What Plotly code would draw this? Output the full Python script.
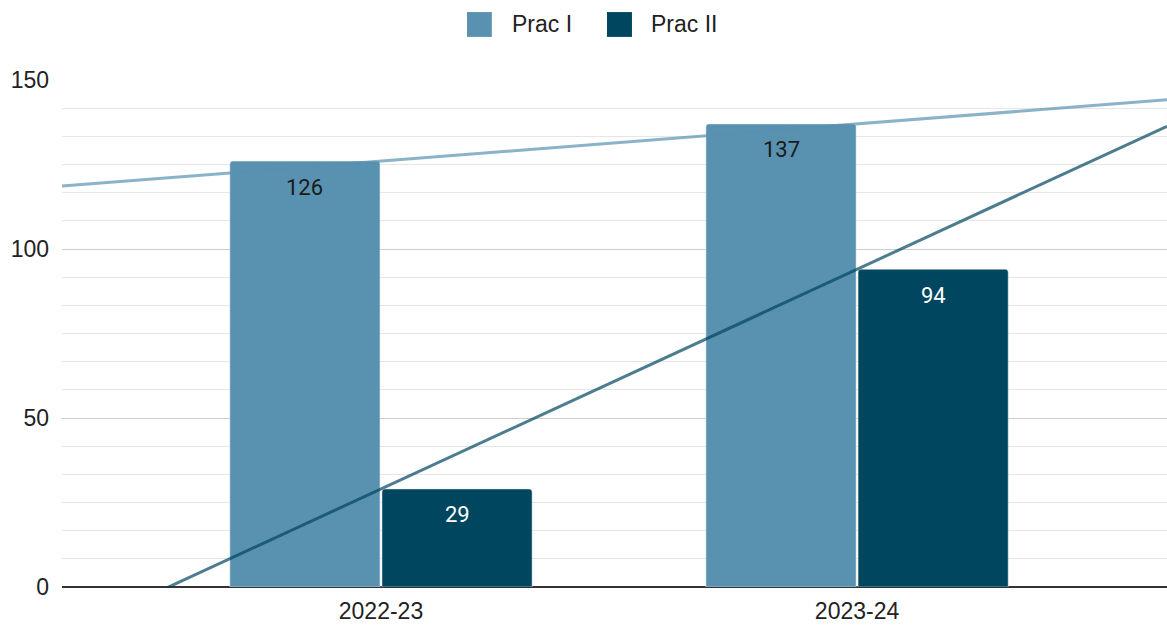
import numpy as np
import plotly.graph_objects as go

categories = ["2022-23", "2023-24"]
prac_1 = [126, 137]
prac_2 = [29, 94]
series_names = ["Prac I", "Prac II"]
y_ticks = [0, 50, 100, 150]

bar_colors = ["#5992b0", "#00465f"]
trend_colors = ["rgba(89,146,176,0.7)", "rgba(0,70,95,0.7)"]
label_colors = ["#1a1a1a", "#ffffff"]
axis_font = "Liberation Sans, Arial, sans-serif"

x_pos = np.arange(len(categories))
x_range = [-0.670, 1.651]
bargap = 0.361
slot = (1 - bargap) / 2

fig = go.Figure()
series = [prac_1, prac_2]
for i, (name, vals) in enumerate(zip(series_names, series)):
    fig.add_trace(go.Bar(
        x=x_pos, y=vals, name=name, marker=dict(color=bar_colors[i], cornerradius=3),
        showlegend=False, hoverinfo="y",
    ))
for i, (name, vals) in enumerate(zip(series_names, series)):
    b, a = np.polyfit(x_pos, vals, 1)
    xs = np.array(x_range)
    fig.add_trace(go.Scatter(
        x=xs, y=a + b * xs, mode="lines", line=dict(color=trend_colors[i], width=3),
        showlegend=False, hoverinfo="skip",
    ))

annotations = []
for i, vals in enumerate(series):
    off = (i - 0.5) * slot
    for xp, v in zip(x_pos, vals):
        annotations.append(dict(
            x=xp + off, y=v, xref="x", yref="y", text=str(v), showarrow=False,
            yshift=-26, font=dict(size=22, color=label_colors[i], family="Roboto"),
        ))

# custom legend (top center)
legend_boxes = [(0.3665, 0.389), (0.4932, 0.5158)]
legend_text_x = [0.4054, 0.5312]
shapes = []
for i, name in enumerate(series_names):
    x0, x1 = legend_boxes[i]
    shapes.append(dict(type="rect", xref="paper", yref="paper", x0=x0, x1=x1,
                       y0=1.085, y1=1.134, fillcolor=bar_colors[i], line=dict(width=0)))
    annotations.append(dict(x=legend_text_x[i], y=1.110, xref="paper", yref="paper",
                            xanchor="left", yanchor="middle", text=name, showarrow=False,
                            font=dict(size=23, color="#222222", family=axis_font)))

fig.update_layout(
    width=1167, height=625,
    margin=dict(l=62, r=0, t=80, b=38),
    plot_bgcolor="white", paper_bgcolor="white",
    barmode="group", bargap=bargap, bargroupgap=0.013,
    font=dict(family=axis_font, size=23, color="#222222"),
    annotations=annotations, shapes=shapes, showlegend=False,
    xaxis=dict(range=x_range, tickvals=list(x_pos), ticktext=categories, showgrid=False,
               zeroline=False, showline=False, ticks="", tickfont=dict(size=23),
               ticklabelstandoff=8),
    yaxis=dict(range=[0, 150], tickvals=y_ticks, showgrid=True, gridcolor="#cccccc",
               gridwidth=1, zeroline=True, zerolinecolor="#333333", zerolinewidth=2,
               ticks="", tickfont=dict(size=23), ticklabelstandoff=12,
               minor=dict(dtick=50 / 6, showgrid=True, gridcolor="#e6e6e6", gridwidth=1)),
)

fig.write_html("out.html", config={"displayModeBar": False},
               post_script="document.body.style.margin='0';")
